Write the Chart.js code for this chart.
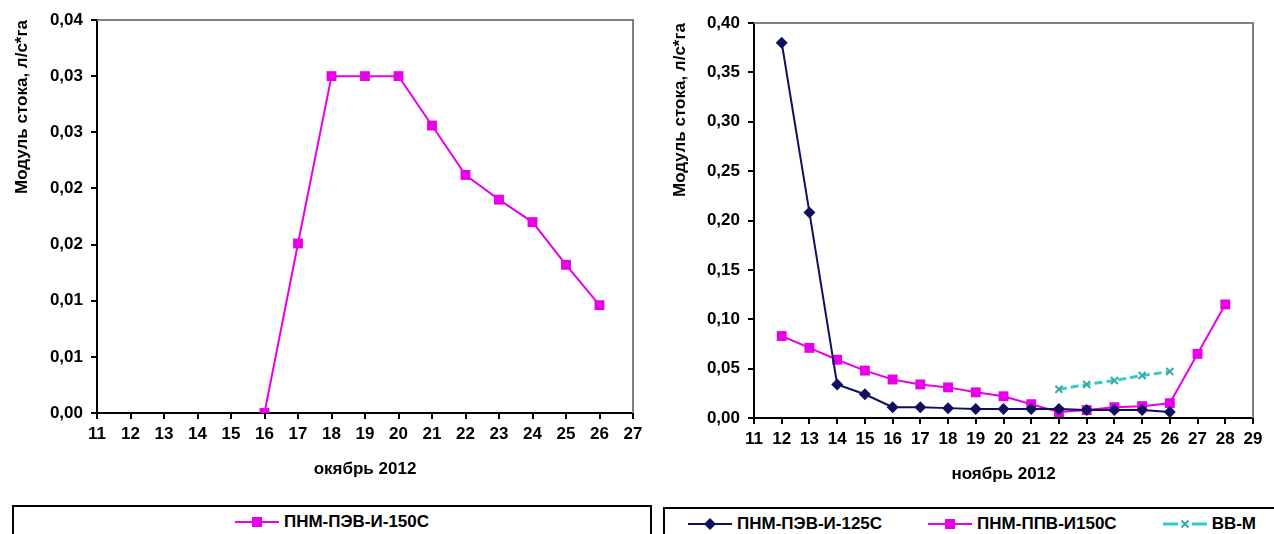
<!DOCTYPE html>
<html>
<head>
<meta charset="utf-8">
<script src="https://cdn.jsdelivr.net/npm/chart.js@4.4.0/dist/chart.umd.min.js"></script>
<style>
    body { margin: 0; background: #fff; width: 1274px; height: 534px; overflow: hidden; position: relative; font-family: 'Liberation Sans', Arial, sans-serif; }
    .wrap { position: absolute; top: 0; height: 500px; }
    .legend { position: absolute; border: 2px solid #000; height: 40px; box-sizing: border-box; display: flex; align-items: flex-start; font-size: 17px; font-weight: bold; color: #000; background: #fff; }
    .item { display: inline-flex; align-items: center; white-space: nowrap; }
    .item svg { margin-right: 5px; }
</style>
</head>
<body>
<div class="wrap" style="left:0;width:650px;"><canvas id="octChart"></canvas></div>
<div class="wrap" style="left:650px;width:624px;"><canvas id="novChart"></canvas></div>
<div class="legend" id="octLegend" style="left:12px;top:505px;width:640px;justify-content:center;padding-top:5px;"></div>
<div class="legend" id="novLegend" style="left:663px;top:507px;width:620px;padding-left:23px;padding-top:5px;gap:46px;"></div>

<script>
// October (left chart)
const octDays = [16, 17, 18, 19, 20, 21, 22, 23, 24, 25, 26];
const octPEV150 = [0.0, 0.0151, 0.0300, 0.0300, 0.0300, 0.0256, 0.0212, 0.0190, 0.0170, 0.0132, 0.0096];
const octYTicks = ['0,00', '0,01', '0,01', '0,02', '0,02', '0,03', '0,03', '0,04'];

// November (right chart)
const novDaysPEV125 = [12, 13, 14, 15, 16, 17, 18, 19, 20, 21, 22, 23, 24, 25, 26];
const novPEV125 = [0.380, 0.208, 0.034, 0.024, 0.011, 0.011, 0.010, 0.009, 0.009, 0.009, 0.009, 0.008, 0.008, 0.008, 0.006];
const novDaysPPV150 = [12, 13, 14, 15, 16, 17, 18, 19, 20, 21, 22, 23, 24, 25, 26, 27, 28];
const novPPV150 = [0.083, 0.071, 0.059, 0.048, 0.039, 0.034, 0.031, 0.026, 0.022, 0.014, 0.006, 0.008, 0.011, 0.012, 0.015, 0.065, 0.115];
const novDaysVVM = [22, 23, 24, 25, 26];
const novVVM = [0.029, 0.034, 0.038, 0.043, 0.047];
const novYTicks = ['0,00', '0,05', '0,10', '0,15', '0,20', '0,25', '0,30', '0,35', '0,40'];

const FONT = "'Liberation Sans', Arial, sans-serif";
Chart.defaults.font.family = FONT;
Chart.defaults.color = '#000';

const toPoints = (xs, ys) => xs.map((x, i) => ({ x: x, y: ys[i] }));

// gray frame on top and right of the plot area
const framePlugin = {
    id: 'frame',
    beforeDatasetsDraw(chart) {
        const { ctx, chartArea: a } = chart;
        ctx.save();
        ctx.strokeStyle = '#808080';
        ctx.lineWidth = 2;
        ctx.beginPath();
        ctx.moveTo(a.left, a.top);
        ctx.lineTo(a.right, a.top);
        ctx.lineTo(a.right, a.bottom);
        ctx.stroke();
        ctx.restore();
    }
};

function makeOptions(cfg) {
    return {
        responsive: true,
        maintainAspectRatio: false,
        animation: false,
        layout: { padding: { top: cfg.padTop, right: cfg.padRight, left: 0, bottom: 0 } },
        plugins: { legend: { display: false }, tooltip: { enabled: false } },
        scales: {
            x: {
                type: 'linear',
                min: cfg.xMin,
                max: cfg.xMax,
                afterFit: (s) => { s.height = cfg.xHeight; },
                ticks: { stepSize: 1, autoSkip: false, maxRotation: 0, padding: 5, font: { size: 17, weight: 'bold' } },
                grid: { drawOnChartArea: false, drawTicks: true, tickLength: 6, color: '#000', lineWidth: 2 },
                border: { display: true, color: '#000', width: 2 },
                title: { display: true, text: cfg.xTitle, font: { size: 17, weight: 'bold' }, padding: { top: 0, bottom: cfg.xTitlePad } }
            },
            y: {
                min: 0,
                max: cfg.yMax,
                afterFit: (s) => { s.width = cfg.yWidth; },
                afterBuildTicks: (s) => {
                    s.ticks = cfg.yTicks.map((t, i) => ({ value: i * cfg.yStep }));
                },
                ticks: {
                    padding: 8,
                    font: { size: 17, weight: 'bold' },
                    callback: (v, i) => cfg.yTicks[i]
                },
                grid: { drawOnChartArea: false, drawTicks: true, tickLength: 6, color: '#000', lineWidth: 2 },
                border: { display: true, color: '#000', width: 2 },
                title: { display: true, text: 'Модуль стока, л/с*га', align: 'end', font: { size: 17, weight: 'bold' }, padding: { top: cfg.yTitlePad, bottom: 0 } }
            }
        }
    };
}

const octDatasets = [
    {
        label: 'ПНМ-ПЭВ-И-150С',
        data: toPoints(octDays, octPEV150),
        borderColor: '#e800e8',
        backgroundColor: '#e800e8',
        borderWidth: 2,
        pointStyle: 'rect',
        pointRadius: 7,
        pointBorderWidth: 0,
        tension: 0
    }
];

const novDatasets = [
    {
        label: 'ПНМ-ПЭВ-И-125С',
        data: toPoints(novDaysPEV125, novPEV125),
        borderColor: '#10105e',
        backgroundColor: '#10105e',
        borderWidth: 2,
        pointStyle: 'rectRot',
        pointRadius: 6,
        pointBorderWidth: 0,
        tension: 0
    },
    {
        label: 'ПНМ-ППВ-И150С',
        data: toPoints(novDaysPPV150, novPPV150),
        borderColor: '#e800e8',
        backgroundColor: '#e800e8',
        borderWidth: 2,
        pointStyle: 'rect',
        pointRadius: 7,
        pointBorderWidth: 0,
        tension: 0
    },
    {
        label: 'ВВ-М',
        data: toPoints(novDaysVVM, novVVM),
        borderColor: '#33cccc',
        backgroundColor: '#33cccc',
        borderWidth: 3,
        borderDash: [8, 4],
        pointStyle: 'crossRot',
        pointRadius: 5,
        pointBorderWidth: 2,
        pointBorderColor: '#33aaaa',
        tension: 0
    }
];

new Chart(document.getElementById('octChart'), {
    type: 'line',
    data: { datasets: octDatasets },
    options: makeOptions({
        padTop: 20, padRight: 17, xMin: 11, xMax: 27, xHeight: 87, yWidth: 97,
        yMax: 0.035, yStep: 0.005, yTicks: octYTicks, xTitle: 'окябрь 2012', xTitlePad: 20, yTitlePad: 12
    }),
    plugins: [framePlugin]
});

new Chart(document.getElementById('novChart'), {
    type: 'line',
    data: { datasets: novDatasets },
    options: makeOptions({
        padTop: 23, padRight: 21, xMin: 11, xMax: 29, xHeight: 82, yWidth: 104,
        yMax: 0.40, yStep: 0.05, yTicks: novYTicks, xTitle: 'ноябрь 2012', xTitlePad: 15, yTitlePad: 20
    }),
    plugins: [framePlugin]
});

// legend items built from the dataset styles
function markerSvg(ds) {
    const c = ds.borderColor;
    let mark = '';
    if (ds.pointStyle === 'rect') mark = `<rect x="17" y="2" width="10" height="10" fill="${c}"/>`;
    if (ds.pointStyle === 'rectRot') mark = `<polygon points="22,1 28,7 22,13 16,7" fill="${c}"/>`;
    if (ds.pointStyle === 'crossRot') mark = `<path d="M18.5 3.5 L25.5 10.5 M25.5 3.5 L18.5 10.5" stroke="${ds.pointBorderColor}" stroke-width="2"/>`;
    const line = ds.borderDash
        ? `<line x1="0" y1="7" x2="15" y2="7" stroke="${c}" stroke-width="3"/><line x1="29" y1="7" x2="44" y2="7" stroke="${c}" stroke-width="3"/>`
        : `<line x1="0" y1="7" x2="44" y2="7" stroke="${c}" stroke-width="2"/>`;
    return `<svg width="44" height="14">${line}${mark}</svg>`;
}

function fillLegend(id, datasets) {
    const el = document.getElementById(id);
    datasets.forEach(ds => {
        const span = document.createElement('span');
        span.className = 'item';
        span.innerHTML = markerSvg(ds) + '<span>' + ds.label + '</span>';
        el.appendChild(span);
    });
}

fillLegend('octLegend', octDatasets);
fillLegend('novLegend', novDatasets);
</script>
</body>
</html>
